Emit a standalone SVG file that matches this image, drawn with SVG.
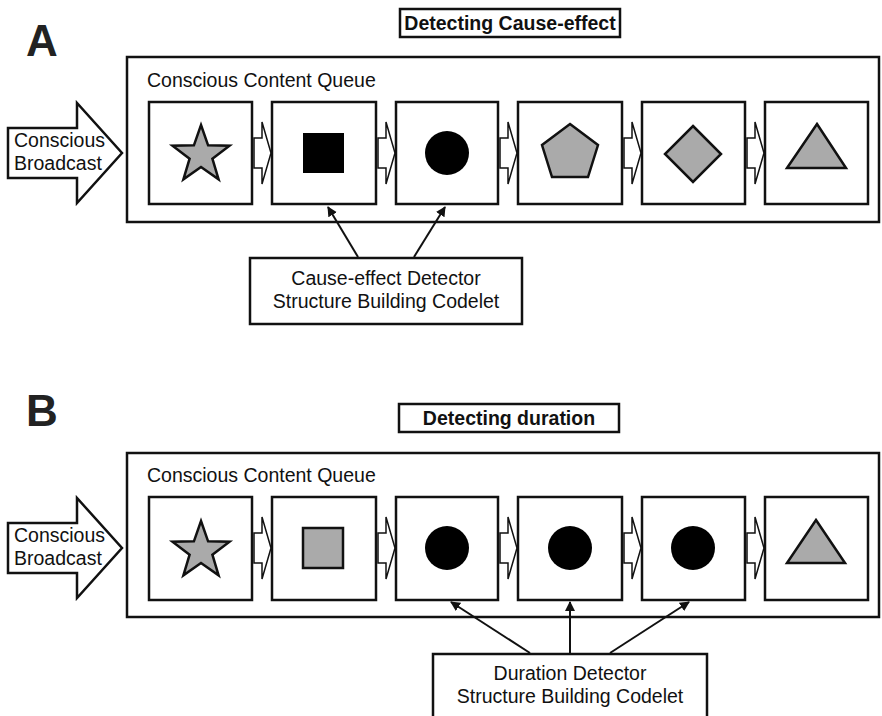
<svg xmlns="http://www.w3.org/2000/svg" width="882" height="716" viewBox="0 0 882 716">
<style>
.box{fill:#fff;stroke:#111;stroke-width:2.5}
.shape{fill:#aaa;stroke:#111;stroke-width:2.5;stroke-linejoin:miter}
.blk{fill:#000}
.sa{fill:#fff;stroke:#111;stroke-width:1.5;stroke-linejoin:miter}
.t{font-family:"Liberation Sans",Arial,sans-serif;font-size:19.5px;fill:#111}
.tb{font-family:"Liberation Sans",Arial,sans-serif;font-size:19.5px;font-weight:bold;fill:#111}
.big{font-family:"Liberation Sans",Arial,sans-serif;font-size:44px;font-weight:bold;fill:#222}
.con{stroke:#111;stroke-width:2;fill:none}
</style>
<defs>
<marker id="ah" viewBox="0 0 10 10" refX="9" refY="5" markerWidth="5" markerHeight="5" orient="auto" markerUnits="strokeWidth">
<path d="M0,0 L10,5 L0,10 Z" fill="#111"/>
</marker>
<path id="star" d="M0,-30 L7.1,-9.7 L28.5,-9.3 L11.4,3.7 L17.6,24.3 L0,12 L-17.6,24.3 L-11.4,3.7 L-28.5,-9.3 L-7.1,-9.7 Z"/>
<path id="smallArrow" d="M0,-15 L8,-15 L8,-31 L17,0 L8,31 L8,15 L0,15 Z"/>
</defs>
<rect width="882" height="716" fill="#fff"/>

<!-- Panel A -->
<g id="panelA">
<text class="big" x="26" y="56">A</text>
<g id="titleA">
<rect class="box" x="400" y="9" width="220" height="28" stroke-width="2"/>
<text class="tb" x="510" y="30" text-anchor="middle">Detecting Cause-effect</text>
</g>
<g id="broadcastA">
<path class="box" d="M8,128 L77,128 L77,103 L122,153 L77,203 L77,178 L8,178 Z"/>
<text class="t" x="14" y="147">Conscious</text>
<text class="t" x="14" y="170">Broadcast</text>
</g>
<g id="queueA">
<rect class="box" x="127" y="57" width="752" height="165"/>
<text class="t" x="147" y="87">Conscious Content Queue</text>
</g>
<g id="itemA1"><rect class="box" x="149" y="102" width="103" height="102"/><use href="#star" class="shape" transform="translate(201,155)"/></g>
<g id="itemA2"><rect class="box" x="272" y="102" width="104" height="102"/><rect class="blk" x="303" y="133" width="41" height="40"/></g>
<g id="itemA3"><rect class="box" x="396" y="102" width="102" height="102"/><circle class="blk" cx="447" cy="153" r="22"/></g>
<g id="itemA4"><rect class="box" x="518" y="102" width="104" height="102"/><path class="shape" d="M570,124 L598,145 L588,177 L552,177 L542,145 Z"/></g>
<g id="itemA5"><rect class="box" x="642" y="102" width="103" height="102"/><path class="shape" d="M693,126 L721,154 L693,182 L665,154 Z"/></g>
<g id="itemA6"><rect class="box" x="765" y="102" width="103" height="102"/><path class="shape" d="M817,124 L846,168 L787,168 Z"/></g>
<g id="detectorA">
<rect class="box" x="250" y="258" width="272" height="66"/>
<text class="t" x="386" y="285" text-anchor="middle">Cause-effect Detector</text>
<text class="t" x="386" y="308" text-anchor="middle">Structure Building Codelet</text>
</g>
</g>

<!-- Panel B -->
<g id="panelB">
<text class="big" x="26" y="426">B</text>
<g id="titleB">
<rect class="box" x="399" y="404" width="220" height="28" stroke-width="2"/>
<text class="tb" x="509" y="425" text-anchor="middle">Detecting duration</text>
</g>
<g id="broadcastB">
<path class="box" d="M8,523 L77,523 L77,498 L122,548 L77,598 L77,573 L8,573 Z"/>
<text class="t" x="14" y="542">Conscious</text>
<text class="t" x="14" y="565">Broadcast</text>
</g>
<g id="queueB">
<rect class="box" x="127" y="453" width="752" height="164"/>
<text class="t" x="147" y="482">Conscious Content Queue</text>
</g>
<g id="itemB1"><rect class="box" x="149" y="497" width="103" height="103"/><use href="#star" class="shape" transform="translate(201,551)"/></g>
<g id="itemB2"><rect class="box" x="272" y="497" width="104" height="103"/><rect class="shape" x="303" y="528" width="40" height="40"/></g>
<g id="itemB3"><rect class="box" x="396" y="497" width="102" height="103"/><circle class="blk" cx="447" cy="548" r="22"/></g>
<g id="itemB4"><rect class="box" x="518" y="497" width="104" height="103"/><circle class="blk" cx="570" cy="548" r="22"/></g>
<g id="itemB5"><rect class="box" x="642" y="497" width="103" height="103"/><circle class="blk" cx="693" cy="548" r="22"/></g>
<g id="itemB6"><rect class="box" x="765" y="497" width="103" height="103"/><path class="shape" d="M816,520 L845,563 L787,563 Z"/></g>
<g id="detectorB">
<rect class="box" x="433" y="654" width="274" height="70"/>
<text class="t" x="570" y="680" text-anchor="middle">Duration Detector</text>
<text class="t" x="570" y="703" text-anchor="middle">Structure Building Codelet</text>
</g>
</g>

<g id="connectors">
<use href="#smallArrow" class="sa" transform="translate(254,153)"/>
<use href="#smallArrow" class="sa" transform="translate(378,153)"/>
<use href="#smallArrow" class="sa" transform="translate(500,153)"/>
<use href="#smallArrow" class="sa" transform="translate(624,153)"/>
<use href="#smallArrow" class="sa" transform="translate(747,153)"/>
<use href="#smallArrow" class="sa" transform="translate(254,548)"/>
<use href="#smallArrow" class="sa" transform="translate(378,548)"/>
<use href="#smallArrow" class="sa" transform="translate(500,548)"/>
<use href="#smallArrow" class="sa" transform="translate(624,548)"/>
<use href="#smallArrow" class="sa" transform="translate(747,548)"/>
<line class="con" x1="358" y1="257" x2="328" y2="207" marker-end="url(#ah)"/>
<line class="con" x1="414" y1="257" x2="445" y2="207" marker-end="url(#ah)"/>
<line class="con" x1="530" y1="653" x2="451" y2="602" marker-end="url(#ah)"/>
<line class="con" x1="570" y1="653" x2="570" y2="602" marker-end="url(#ah)"/>
<line class="con" x1="610" y1="653" x2="689" y2="602" marker-end="url(#ah)"/>
</g>
</svg>
